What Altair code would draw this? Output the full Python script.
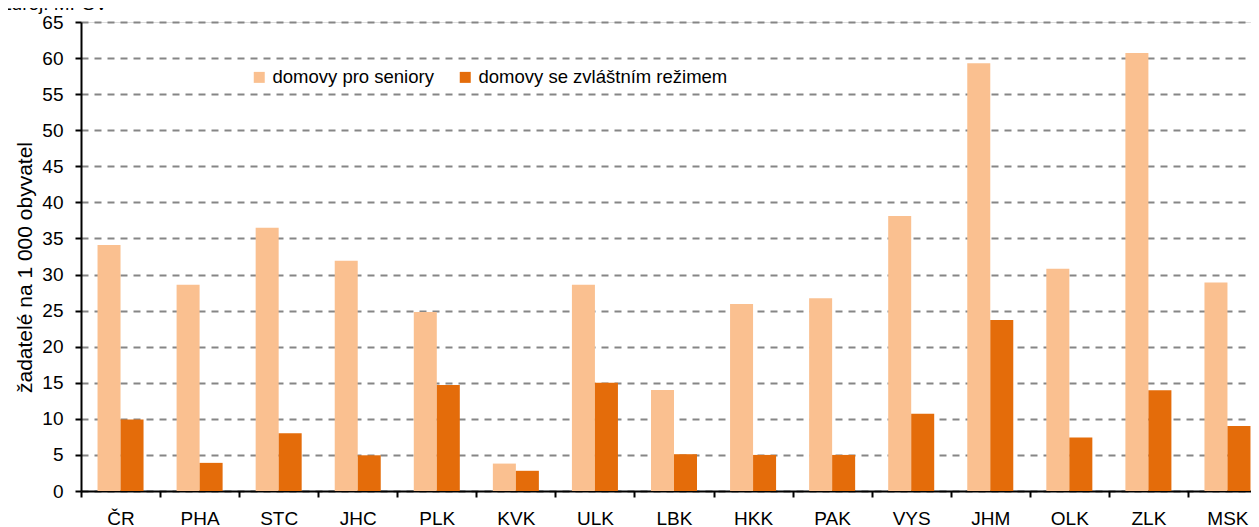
import altair as alt
import pandas as pd

categories = ["ČR", "PHA", "STC", "JHC", "PLK", "KVK", "ULK", "LBK", "HKK", "PAK",
              "VYS", "JHM", "OLK", "ZLK", "MSK"]
series_names = ["domovy pro seniory", "domovy se zvláštním režimem"]
seniors = [34.1, 28.6, 36.5, 31.9, 24.8, 3.8, 28.6, 14.0, 25.9, 26.7, 38.1, 59.3, 30.8, 60.7, 28.9]
special = [9.9, 3.9, 8.0, 4.95, 14.7, 2.8, 15.0, 5.1, 5.0, 5.0, 10.7, 23.7, 7.4, 13.95, 9.0]
y_ticks = list(range(0, 66, 5))
colors = ["#FAC090", "#E46C0A"]

rows = []
for i, c in enumerate(categories):
    rows.append({"kraj": c, "typ": series_names[0], "hodnota": seniors[i]})
    rows.append({"kraj": c, "typ": series_names[1], "hodnota": special[i]})
df = pd.DataFrame(rows)

W = 1186
H = 469
step = W / len(categories)
FONT = "Liberation Sans"

bars = alt.Chart(df).mark_bar().encode(
    x=alt.X("kraj:N", sort=categories,
            scale=alt.Scale(paddingInner=0.418, paddingOuter=0.209),
            axis=alt.Axis(title=None, labelAngle=0, labelFontSize=19, labelFont=FONT,
                          labelColor="#000000", domainColor="#000000", domainWidth=2,
                          tickColor="#000000", tickWidth=2, tickSize=6,
                          tickOffset=-step / 2, labelOffset=step / 2,
                          labelPadding=12, grid=False)),
    xOffset=alt.XOffset("typ:N", sort=series_names,
                        scale=alt.Scale(paddingInner=0, paddingOuter=0)),
    y=alt.Y("hodnota:Q",
            scale=alt.Scale(domain=[0, 65], nice=False),
            axis=alt.Axis(values=y_ticks, title="žadatelé na 1 000 obyvatel",
                          titleFont=FONT, titleFontSize=21, titleFontWeight="normal",
                          titleColor="#000000", titleAngle=270,
                          titleAlign="center", titleBaseline="middle",
                          titleX=-56, titleY=245,
                          labelFontSize=19, labelFont=FONT, labelColor="#000000",
                          labelPadding=12,
                          domainColor="#000000", domainWidth=2,
                          tickColor="#000000", tickWidth=2, tickSize=6,
                          grid=True, gridColor="#868686", gridWidth=2,
                          gridDash=[7, 6])),
    color=alt.Color("typ:N", sort=series_names,
                    scale=alt.Scale(domain=series_names, range=colors),
                    legend=alt.Legend(title=None, orient="none", direction="horizontal",
                                      legendX=169, legendY=46, padding=0,
                                      symbolType="square", symbolSize=121,
                                      symbolStrokeWidth=0, labelFont=FONT,
                                      labelFontSize=18.5, labelColor="#000000",
                                      labelLimit=0,
                                      labelOffset=4, columnPadding=22)),
)

src = pd.DataFrame({"t": ["Zdroj: MPSV"]})
source_text = alt.Chart(src).mark_text(
    align="left", baseline="alphabetic", fontSize=19, font=FONT, color="#000000"
).encode(
    x=alt.value(-81), y=alt.value(-12), text="t:N"
)

chart = alt.layer(bars, source_text).properties(
    width=W, height=H,
    autosize="none",
    padding={"left": 73, "top": 14, "right": -16, "bottom": 36},
).configure_view(stroke=None).configure(background="#ffffff")

chart.save("out.html", embed_options={"renderer": "svg", "actions": False})
